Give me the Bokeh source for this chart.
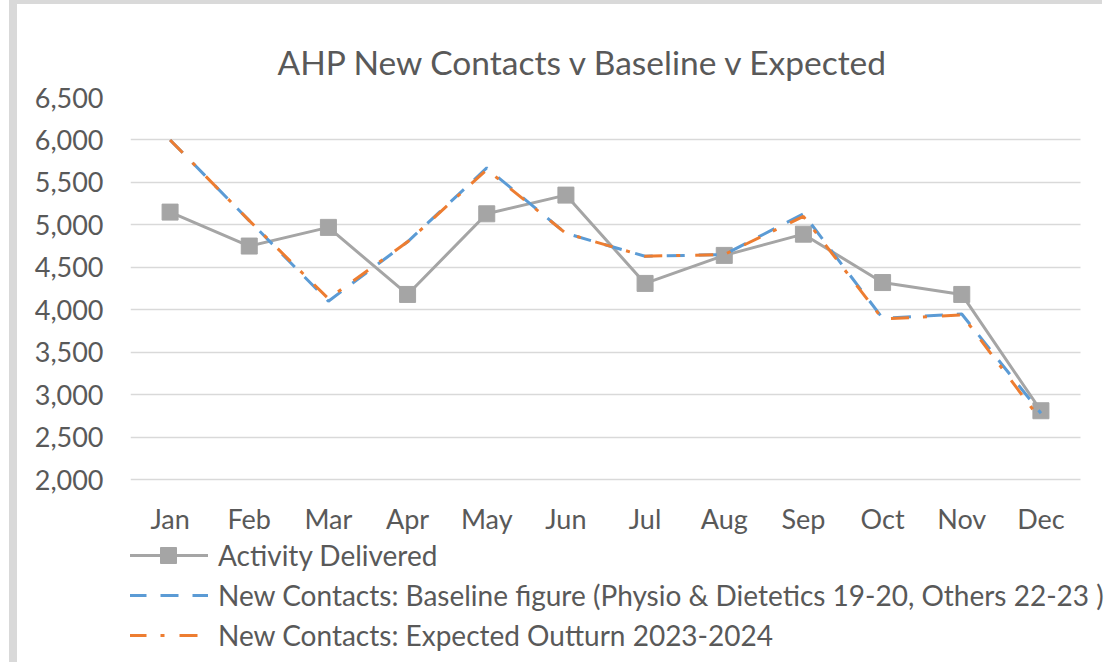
from bokeh.plotting import figure
from bokeh.models import (Legend, LegendItem, NumeralTickFormatter, FixedTicker,
                          Range1d, ColumnDataSource)
from bokeh.embed import file_html
from bokeh.resources import INLINE

months = ["Jan", "Feb", "Mar", "Apr", "May", "Jun", "Jul", "Aug", "Sep", "Oct", "Nov", "Dec"]
activity = [5150, 4750, 4970, 4180, 5130, 5350, 4310, 4640, 4890, 4320, 4180, 2810]
baseline = [6000, 5050, 4100, 4800, 5670, 4900, 4630, 4650, 5130, 3900, 3950, 2780]
expected = [6000, 5050, 4130, 4800, 5650, 4900, 4630, 4650, 5100, 3890, 3940, 2700]
y_ticks = [2000, 2500, 3000, 3500, 4000, 4500, 5000, 5500, 6000, 6500]

series_names = [
    "Activity Delivered",
    "New Contacts: Baseline figure (Physio & Dietetics 19-20, Others 22-23 )",
    "New Contacts: Expected Outturn 2023-2024",
]
title_text = "AHP New Contacts v Baseline v Expected"

FONT = "Lato"
TXT = "#595959"

# grey frame of the chart area (left and top edge), drawn as CSS border
MX, BX, BY = 9, 8, 4
# layout (page pixels): plot area x 130..1080, 6,500 at y=97, 2,000 at y=479;
# frame extended right and below so that the legend is not clipped
W, H = 1110 - MX - BX, 666 - BY          # size of the drawing canvas
TOP, LEFT, RIGHT, BOTTOM = 97 - BY, 130 - MX - BX, 0, 6
plot_right = 1080 - MX - BX
y_lo_px = 479 - BY
px_per_unit = (y_lo_px - TOP) / (y_ticks[-1] - y_ticks[0])
frame_bottom = H - BOTTOM
y_start = y_ticks[0] - (frame_bottom - y_lo_px) / px_per_unit

idx = list(range(len(months)))
px_per_cat = (plot_right - LEFT) / len(months)
x_end = len(months) - 0.5 + (W - RIGHT - plot_right) / px_per_cat

src = ColumnDataSource(dict(x=idx, a=activity, b=baseline, e=expected))

# the canvas is measured including the border, so the model size excludes it
p = figure(width=W - BX, height=H - BY, x_range=Range1d(-0.5, x_end),
           y_range=Range1d(y_start, y_ticks[-1]),
           output_backend="svg", toolbar_location=None,
           min_border_left=LEFT, min_border_right=RIGHT, min_border_top=TOP,
           min_border_bottom=BOTTOM)
p.styles = {"margin-left": f"{MX}px", "border-left": f"{BX}px solid #D9D9D9",
            "border-top": f"{BY}px solid #D9D9D9", "box-sizing": "content-box"}

p.title.text = title_text
p.title.text_font = FONT
p.title.text_font_size = "33.5px"
p.title.text_font_style = "normal"
p.title.text_color = TXT
p.title.align = "left"
p.title.offset = 147
p.title.standoff = 31

p.outline_line_color = None
p.background_fill_color = "white"
p.border_fill_color = "white"

p.xgrid.grid_line_color = None
p.ygrid.grid_line_color = "#D9D9D9"
p.ygrid.grid_line_width = 1.6
p.ygrid.cross_bounds = (-0.5, len(months) - 0.5)

p.yaxis.ticker = FixedTicker(ticks=y_ticks)
p.yaxis.formatter = NumeralTickFormatter(format="0,0")
p.xaxis.ticker = FixedTicker(ticks=idx)
p.xaxis.major_label_overrides = {i: m for i, m in zip(idx, months)}
p.xaxis.fixed_location = y_ticks[0]
for ax in (p.xaxis[0], p.yaxis[0]):
    ax.axis_line_color = None
    ax.major_tick_line_color = None
    ax.minor_tick_line_color = None
    ax.major_label_text_font = FONT
    ax.major_label_text_font_size = "27px"
    ax.major_label_text_color = TXT
p.yaxis.major_label_standoff = 21
p.xaxis.major_label_standoff = 16

r_a = p.line("x", "a", source=src, line_color="#A5A5A5", line_width=3)
r_am = p.scatter("x", "a", source=src, marker="square", size=16, fill_color="#A5A5A5",
                 line_color="#A5A5A5")
r_b = p.line("x", "b", source=src, line_color="#5B9BD5", line_width=3, line_dash="18 14")
r_e = p.line("x", "e", source=src, line_color="#ED7D31", line_width=3, line_dash="18 14 4 15")

legend = Legend(items=[
    LegendItem(label=series_names[0], renderers=[r_a, r_am]),
    LegendItem(label=series_names[1], renderers=[r_b]),
    LegendItem(label=series_names[2], renderers=[r_e]),
], location=(-2, 5), orientation="vertical")
legend.label_text_font = FONT
legend.label_text_font_size = "28px"
legend.label_text_color = TXT
legend.glyph_width = 80
legend.glyph_height = 40
legend.label_standoff = 10
legend.spacing = 0
legend.padding = 0
legend.margin = 0
legend.border_line_color = None
legend.background_fill_alpha = 0
p.add_layout(legend)

open("out.html", "w").write(file_html(p, INLINE))
